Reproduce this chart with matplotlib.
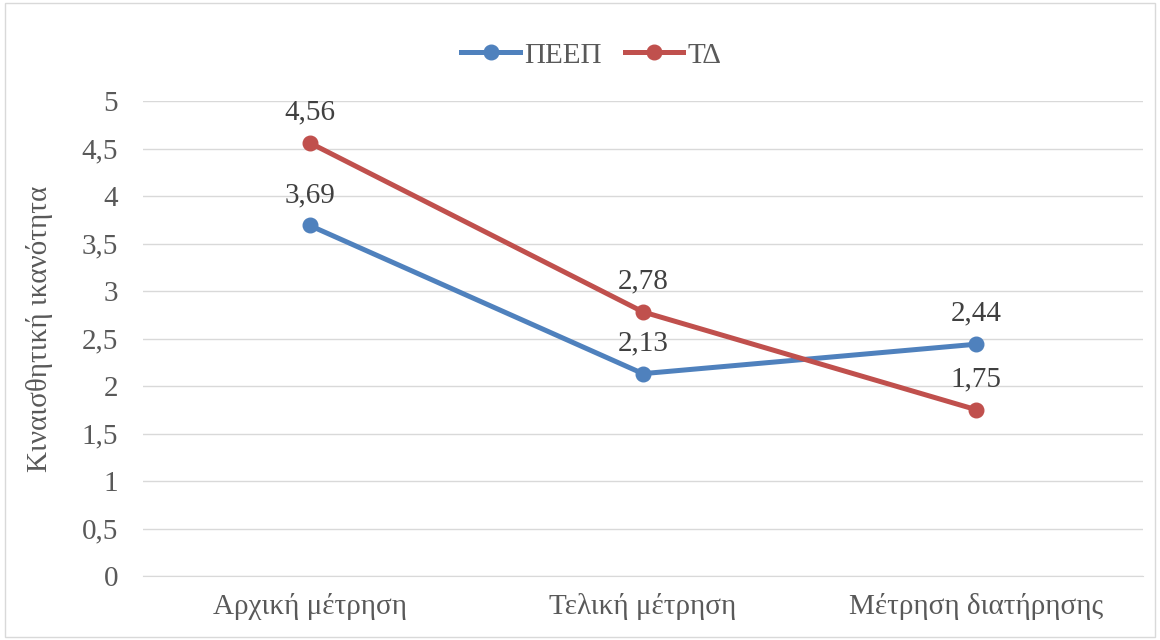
import matplotlib.pyplot as plt
from matplotlib.patches import Rectangle
from matplotlib.ticker import FuncFormatter

categories = ["Αρχική μέτρηση", "Τελική μέτρηση", "Μέτρηση διατήρησης"]
peep = [3.69, 2.13, 2.44]
td = [4.56, 2.78, 1.75]
series_names = ["ΠΕΕΠ", "ΤΔ"]
colors = ["#4F81BD", "#C0504D"]

plt.rcParams["font.family"] = ["Liberation Serif", "DejaVu Serif"]

fig = plt.figure(figsize=(11.6, 6.4), dpi=100)
ax = fig.add_axes([143 / 1160, 1 - 576 / 640, 1000 / 1160, 475 / 640])

x = range(len(categories))
for vals, name, c in zip([peep, td], series_names, colors):
    ax.plot(x, vals, color=c, lw=3.6, marker="o", ms=10.5, label=name, zorder=3)
    for xi, v in zip(x, vals):
        ax.annotate(f"{v:.2f}".replace(".", ","), (xi, v), xytext=(0, 22),
                    textcoords="offset points", ha="center", va="center",
                    fontsize=21, color="#404040")

ax.set_xlim(-0.5, 2.5)
ax.set_ylim(0, 5)
ax.set_yticks([i * 0.5 for i in range(11)])
ax.yaxis.set_major_formatter(FuncFormatter(lambda v, p: f"{v:g}".replace(".", ",")))
ax.set_xticks(list(x))
ax.set_xticklabels(categories)
ax.tick_params(axis="both", length=0, labelsize=21, colors="#595959")
ax.tick_params(axis="y", pad=18)
ax.tick_params(axis="x", pad=12)
ax.grid(axis="y", color="#D9D9D9", lw=1)
ax.set_axisbelow(True)
for s in ["top", "right", "left"]:
    ax.spines[s].set_visible(False)
ax.spines["bottom"].set_color("#D9D9D9")
ax.set_ylabel("Κιναισθητική ικανότητα", fontsize=21, color="#595959")
ax.yaxis.set_label_coords(-0.09, 0.52)

fig.legend(loc="upper center", bbox_to_anchor=(0.51, 0.975), ncol=2, frameon=False,
           fontsize=21, handlelength=2.0, columnspacing=0.8, handletextpad=0.15,
           labelcolor="#595959")

fig.patches.append(Rectangle((0.004, 0.004), 0.992, 0.992, transform=fig.transFigure,
                             fill=False, edgecolor="#D9D9D9", lw=1))

fig.savefig("out.png", dpi=100)
